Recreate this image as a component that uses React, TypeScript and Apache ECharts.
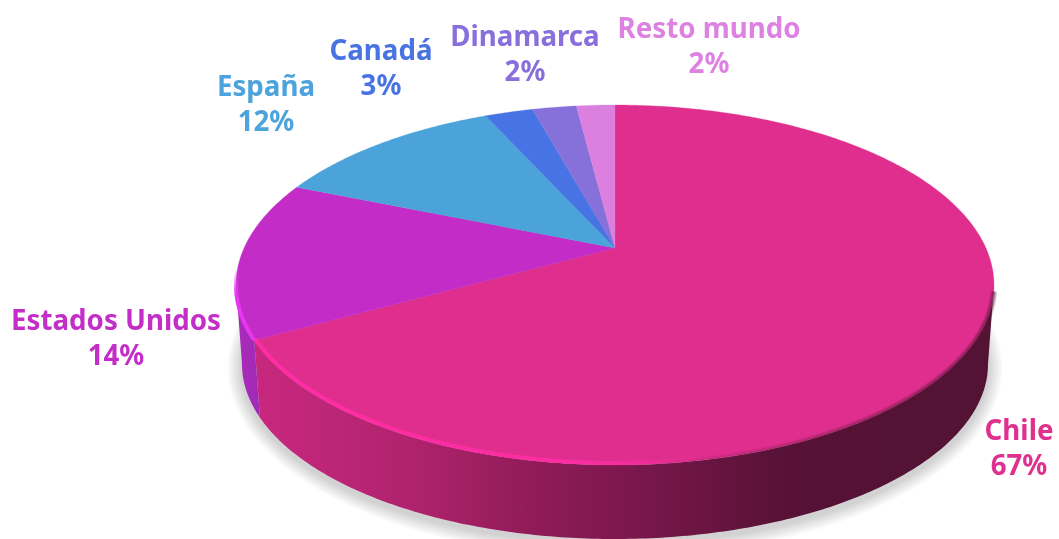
import React, { useEffect, useRef } from "react";
import * as echarts from "echarts";

const categories = ["Chile", "Estados Unidos", "España", "Canadá", "Dinamarca", "Resto mundo"];
const shares = [67, 14.2, 12, 2.5, 2.3, 2];
const palette = ["#DF2E8D", "#C42CC7", "#4BA3D9", "#4773E4", "#8670DA", "#DC80E0"];
const labelColors = ["#E0308F", "#C42EC8", "#4DA3DB", "#4874E3", "#886FDC", "#DE82E2"];
const labelCenters = [
  [1019, 446],
  [116, 336],
  [266, 102],
  [381, 66],
  [525, 52],
  [709, 44],
];

const CX = 615;
const P = -0.2056;
const topRim = { cy: 285, a: 379, b: 180 };
const bottomRim = { cy: 364, a: 373, b: 175 };
const K = Math.sqrt(1 - P * P);
const WALL_FROM = (Math.acos(P) * 180) / Math.PI;
const WALL_TO = 360 - WALL_FROM;

function rimPoint(deg: number, rim: { cy: number; a: number; b: number }) {
  const t = (deg * Math.PI) / 180;
  const x = Math.sin(t);
  const y = -Math.cos(t);
  const w = 1 + P * y;
  return [CX + (rim.a * K * x) / w, rim.cy + (rim.b * (y + P)) / w];
}
function arc(from: number, to: number, rim: { cy: number; a: number; b: number }) {
  const n = Math.max(2, Math.ceil(Math.abs(to - from) * 1.5));
  const pts: number[][] = [];
  for (let i = 0; i <= n; i++) pts.push(rimPoint(from + ((to - from) * i) / n, rim));
  return pts;
}
function sliceRange(i: number, value: number) {
  const total = shares.reduce((s, v) => s + v, 0);
  const before = shares.slice(0, i).reduce((s, v) => s + v, 0);
  return [(before / total) * 360, ((before + value) / total) * 360];
}
const apex = () => [CX, topRim.cy + topRim.b * P];
const grad = (x: number, y: number, x2: number, y2: number, stops: [number, string][]) => ({
  type: "linear",
  x,
  y,
  x2,
  y2,
  global: true,
  colorStops: stops.map(([offset, color]) => ({ offset, color })),
});
const hGrad = (x: number, x2: number, stops: [number, string][]) => grad(x, 0, x2, 0, stops);

const wallFills = [
  hGrad(255, 880, [
    [0, "#C8287F"],
    [0.25, "#B0236D"],
    [0.45, "#8F1B58"],
    [0.65, "#741648"],
    [0.85, "#571236"],
    [1, "#541235"],
  ]),
  hGrad(235, 262, [
    [0, "#AB2BBC"],
    [1, "#9E2AB4"],
  ]),
];

function renderWall(params: any, api: any) {
  const i = params.dataIndex;
  const [s, e] = sliceRange(i, api.value(0));
  const children: any[] = [];
  if (i === 0) {
    // soft drop shadow built from stacked translucent rims
    for (let k = 9; k >= 1; k--) {
      children.push({
        type: "polygon",
        shape: {
          points: arc(0, 360, {
            cy: bottomRim.cy + 4,
            a: bottomRim.a + k * 1.6,
            b: bottomRim.b + k * 1.6,
          }),
        },
        style: { fill: "rgba(0,0,0,0.018)" },
      });
    }
  }
  const from = Math.max(s, WALL_FROM);
  const to = Math.min(e, WALL_TO);
  if (to > from) {
    children.push({
      type: "polygon",
      shape: { points: [...arc(from, to, topRim), ...arc(to, from, bottomRim)] },
      style: { fill: wallFills[i] ?? palette[i] },
    });
  }
  return { type: "group", children };
}

function renderTop(params: any, api: any) {
  const i = params.dataIndex;
  const [s, e] = sliceRange(i, api.value(0));
  return {
    type: "polygon",
    shape: { points: [apex(), ...arc(s, e, topRim)] },
    style: { fill: palette[i], stroke: palette[i], lineWidth: 0.3 },
  };
}

function renderRimAndLabel(params: any, api: any) {
  const i = params.dataIndex;
  const v = api.value(0);
  const [s, e] = sliceRange(i, v);
  const children: any[] = [];
  if (i === 0) {
    const inner1 = { ...topRim, cy: topRim.cy - 1, a: topRim.a - 1, b: topRim.b - 1 };
    children.push({
      type: "polyline",
      shape: { points: arc(e, 165, inner1) },
      style: {
        fill: "none",
        lineWidth: 4,
        stroke: hGrad(255, 720, [
          [0, "rgba(255,45,165,1)"],
          [0.7, "rgba(255,45,165,0.85)"],
          [1, "rgba(255,45,165,0)"],
        ]),
      },
    });
    // the dark, soft seam where the top meets the shaded wall
    [
      { w: 7, o: 0.18 },
      { w: 5, o: 0.22 },
      { w: 3, o: 0.3 },
    ].forEach(({ w, o }) => {
      children.push({
        type: "polyline",
        shape: { points: arc(175, WALL_FROM + 2, topRim) },
        style: {
          fill: "none",
          lineWidth: w,
          stroke: hGrad(640, 960, [
            [0, "rgba(85,18,53,0)"],
            [1, `rgba(85,18,53,${o})`],
          ]),
        },
      });
    });
  }
  if (i === 1) {
    children.push({
      type: "polyline",
      shape: { points: arc(s, WALL_TO + 8, topRim) },
      style: {
        fill: "none",
        lineWidth: 4,
        stroke: grad(0, 268, 0, 295, [
          [0, "rgba(230,55,238,0)"],
          [1, "rgba(230,55,238,1)"],
        ]),
      },
    });
  }
  children.push({
    type: "text",
    x: labelCenters[i][0],
    y: labelCenters[i][1],
    style: {
      text: `${categories[i]}\n${Math.round(v)}%`,
      fill: labelColors[i],
      font: 'bold 27.7px "Noto Sans"',
      lineHeight: 35,
      align: "center",
      verticalAlign: "middle",
    },
  });
  return { type: "group", children };
}

export default function App() {
  const ref = useRef<HTMLDivElement>(null);
  useEffect(() => {
    const chart = echarts.init(ref.current!, undefined, { renderer: "svg" });
    const data = shares.map((v, i) => ({ name: categories[i], value: [v] }));
    const base = { type: "custom", coordinateSystem: "none", data, silent: true };
    chart.setOption({
      animation: false,
      backgroundColor: "#ffffff",
      series: [
        { ...base, name: "wall", z: 1, renderItem: renderWall },
        { ...base, name: "top", z: 2, renderItem: renderTop },
        { ...base, name: "labels", z: 3, renderItem: renderRimAndLabel },
      ],
    });
    return () => chart.dispose();
  }, []);
  return (
    <div
      ref={ref}
      style={{ position: "absolute", left: 0, top: 0, width: 1059, height: 539, filter: "blur(0.6px)" }}
    />
  );
}
